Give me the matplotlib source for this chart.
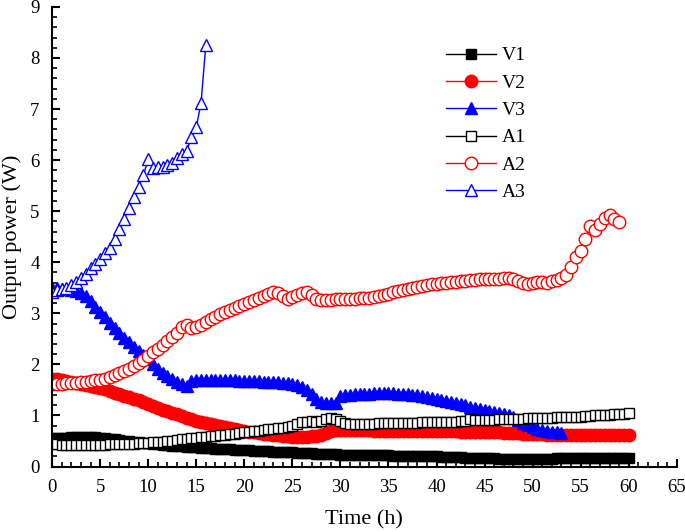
import numpy as np
import matplotlib
matplotlib.use('Agg')
import matplotlib.pyplot as plt
from matplotlib.ticker import MultipleLocator

plt.rcParams['font.family'] = ['Liberation Serif', 'DejaVu Serif']

# sampled every 0.5 h
t_full = np.arange(0, 60.5, 0.5)   # V1, V2, A1
t_v3 = np.arange(0, 53.5, 0.5)
t_a2 = np.arange(0, 59.5, 0.5)
t_a3 = np.arange(0, 16.5, 0.5)

v1 = [0.55, 0.55, 0.56, 0.56, 0.57, 0.57, 0.58, 0.58, 0.57, 0.57, 0.56,
      0.55, 0.54, 0.53, 0.52, 0.51, 0.50, 0.49, 0.48, 0.47, 0.46,
      0.45, 0.44, 0.43, 0.42, 0.41, 0.41, 0.40, 0.39, 0.38, 0.38,
      0.37, 0.36, 0.36, 0.35, 0.35, 0.34, 0.34, 0.33, 0.33, 0.32,
      0.32, 0.31, 0.31, 0.30, 0.30, 0.29, 0.29, 0.28, 0.28, 0.28,
      0.27, 0.27, 0.26, 0.26, 0.25, 0.25, 0.24, 0.24, 0.24, 0.23,
      0.23, 0.23, 0.23, 0.22, 0.22, 0.22, 0.22, 0.22, 0.22, 0.22,
      0.21, 0.21, 0.21, 0.21, 0.21, 0.20, 0.20, 0.20, 0.20, 0.20,
      0.19, 0.19, 0.19, 0.18, 0.18, 0.17, 0.17, 0.16, 0.16, 0.16,
      0.16, 0.16, 0.15, 0.15, 0.15, 0.15, 0.15, 0.15, 0.15, 0.15,
      0.15, 0.15, 0.15, 0.15, 0.16, 0.16, 0.16, 0.16, 0.16, 0.16,
      0.17, 0.17, 0.17, 0.17, 0.17, 0.17, 0.17, 0.17, 0.17, 0.17]

v2 = [1.72, 1.72, 1.70, 1.68, 1.66, 1.64, 1.62, 1.60, 1.58, 1.56, 1.54,
      1.51, 1.48, 1.45, 1.42, 1.39, 1.36, 1.33, 1.30, 1.26, 1.22,
      1.18, 1.14, 1.11, 1.08, 1.05, 1.02, 0.99, 0.96, 0.93, 0.90,
      0.88, 0.86, 0.84, 0.82, 0.80, 0.78, 0.76, 0.74, 0.72, 0.70,
      0.68, 0.67, 0.66, 0.64, 0.63, 0.62, 0.61, 0.60, 0.59, 0.58,
      0.58, 0.58, 0.58, 0.59, 0.60, 0.62, 0.66, 0.69, 0.71, 0.72,
      0.72, 0.72, 0.71, 0.71, 0.71, 0.71, 0.70, 0.70, 0.70, 0.70,
      0.70, 0.70, 0.70, 0.70, 0.70, 0.70, 0.70, 0.70, 0.70, 0.70,
      0.69, 0.69, 0.69, 0.69, 0.68, 0.68, 0.68, 0.68, 0.68, 0.68,
      0.67, 0.67, 0.67, 0.66, 0.66, 0.65, 0.65, 0.64, 0.64, 0.63,
      0.63, 0.63, 0.62, 0.62, 0.62, 0.62, 0.62, 0.62, 0.62, 0.62,
      0.62, 0.62, 0.62, 0.61, 0.61, 0.61, 0.61, 0.61, 0.61, 0.61]

v3 = [3.50, 3.49, 3.48, 3.47, 3.46, 3.44, 3.40, 3.33, 3.24, 3.13, 3.02,
      2.92, 2.81, 2.71, 2.61, 2.52, 2.43, 2.35, 2.27, 2.19, 2.10,
      2.01, 1.92, 1.84, 1.77, 1.71, 1.66, 1.61, 1.57, 1.68, 1.70,
      1.70, 1.70, 1.70, 1.70, 1.69, 1.69, 1.69, 1.69, 1.68, 1.68,
      1.68, 1.67, 1.67, 1.66, 1.66, 1.65, 1.65, 1.64, 1.63, 1.61,
      1.59, 1.56, 1.50, 1.42, 1.33, 1.27, 1.25, 1.24, 1.24, 1.38,
      1.40, 1.41, 1.42, 1.42, 1.43, 1.43, 1.44, 1.44, 1.44, 1.44,
      1.44, 1.43, 1.43, 1.42, 1.41, 1.40, 1.38, 1.37, 1.35, 1.33,
      1.31, 1.29, 1.27, 1.25, 1.22, 1.20, 1.17, 1.15, 1.13, 1.11,
      1.09, 1.07, 1.05, 1.02, 1.00, 0.97, 0.92, 0.86, 0.82, 0.78,
      0.74, 0.71, 0.69, 0.68, 0.67, 0.66]

a1 = [0.44, 0.44, 0.43, 0.43, 0.43, 0.43, 0.43, 0.43, 0.43, 0.43, 0.43,
      0.43, 0.44, 0.44, 0.44, 0.44, 0.45, 0.45, 0.46, 0.46, 0.47,
      0.48, 0.49, 0.49, 0.50, 0.51, 0.52, 0.53, 0.54, 0.55, 0.56,
      0.57, 0.58, 0.59, 0.60, 0.61, 0.62, 0.63, 0.64, 0.65, 0.67,
      0.68, 0.69, 0.70, 0.72, 0.73, 0.74, 0.75, 0.76, 0.78, 0.80,
      0.84, 0.87, 0.88, 0.89, 0.88, 0.90, 0.94, 0.95, 0.93, 0.90,
      0.86, 0.84, 0.84, 0.84, 0.84, 0.84, 0.84, 0.85, 0.85, 0.85,
      0.85, 0.85, 0.86, 0.86, 0.86, 0.86, 0.87, 0.87, 0.87, 0.87,
      0.88, 0.88, 0.88, 0.88, 0.89, 0.89, 0.93, 0.91, 0.91, 0.92,
      0.92, 0.92, 0.93, 0.93, 0.93, 0.94, 0.94, 0.94, 0.95, 0.95,
      0.95, 0.96, 0.96, 0.96, 0.97, 0.97, 0.97, 0.98, 0.98, 0.98,
      0.99, 0.99, 1.00, 1.00, 1.01, 1.01, 1.02, 1.02, 1.03, 1.04]

a2 = [1.62, 1.62, 1.62, 1.63, 1.63, 1.64, 1.65, 1.66, 1.68, 1.69, 1.70,
      1.72, 1.75, 1.79, 1.83, 1.87, 1.92, 1.97, 2.03, 2.09, 2.17,
      2.24, 2.31, 2.38, 2.45, 2.53, 2.62, 2.73, 2.78, 2.72, 2.74,
      2.78, 2.83, 2.88, 2.93, 2.98, 3.02, 3.06, 3.10, 3.14, 3.18,
      3.22, 3.26, 3.30, 3.34, 3.38, 3.42, 3.40, 3.33, 3.28, 3.32,
      3.36, 3.40, 3.41, 3.36, 3.28, 3.27, 3.27, 3.27, 3.28, 3.28,
      3.28, 3.29, 3.29, 3.30, 3.30, 3.31, 3.32, 3.33, 3.35, 3.38,
      3.41, 3.43, 3.45, 3.47, 3.49, 3.51, 3.53, 3.55, 3.57, 3.58,
      3.59, 3.60, 3.61, 3.62, 3.63, 3.64, 3.65, 3.66, 3.67, 3.68,
      3.68, 3.68, 3.68, 3.69, 3.69, 3.68, 3.63, 3.59, 3.58, 3.60,
      3.62, 3.61, 3.59, 3.63, 3.66, 3.70, 3.76, 3.90, 4.10, 4.22,
      4.45, 4.71, 4.63, 4.75, 4.86, 4.93, 4.85, 4.79]

a3 = [3.42, 3.45, 3.47, 3.50, 3.55, 3.62, 3.70, 3.78, 3.88, 3.97, 4.07,
      4.18, 4.28, 4.45, 4.65, 4.85, 5.07, 5.27, 5.48, 5.70, 6.02,
      5.84, 5.86, 5.87, 5.90, 5.95, 6.05, 6.12, 6.17, 6.46, 6.64,
      7.12, 8.26]

fig = plt.figure(figsize=(6.85, 5.32), dpi=100)
ax = fig.add_axes([0.076, 0.123, 0.912, 0.864])

ax.plot(t_full, v1, color='black', marker='s', ms=7.5, lw=1, label='V1')
ax.plot(t_full, v2, color='red', marker='o', ms=9, lw=1, label='V2')
ax.plot(t_v3, v3, color='blue', marker='^', ms=9, lw=1, label='V3')
ax.plot(t_full, a1, color='black', marker='s', ms=7, lw=1, mfc='white', mew=1, label='A1')
ax.plot(t_a2, a2, color='red', marker='o', ms=9, lw=1, mfc='white', mew=1, label='A2')
ax.plot(t_a3, a3, color='blue', marker='^', ms=9, lw=1, mfc='white', mew=1, label='A3')

ax.set_xlim(0, 65)
ax.set_ylim(0, 9)
ax.xaxis.set_major_locator(MultipleLocator(5))
ax.xaxis.set_minor_locator(MultipleLocator(1))
ax.yaxis.set_major_locator(MultipleLocator(1))
ax.yaxis.set_minor_locator(MultipleLocator(0.2))
ax.spines['top'].set_visible(False)
ax.spines['right'].set_visible(False)
ax.spines['left'].set_linewidth(1.5)
ax.spines['bottom'].set_linewidth(1.5)
ax.tick_params(which='major', direction='in', length=6, width=1.5, labelsize=13.5, pad=9)
ax.tick_params(which='minor', direction='in', length=3.5, width=1.2)

ax.set_xlabel('Time (h)', fontsize=16, labelpad=10)
ax.set_ylabel('Output power (W)', fontsize=16, labelpad=6)

ax.legend(loc='upper left', bbox_to_anchor=(0.625, 0.945), bbox_transform=fig.transFigure,
          frameon=False, fontsize=14, handlelength=2.6, handletextpad=0.3,
          labelspacing=0.5)

fig.savefig('out.png', dpi=100)
